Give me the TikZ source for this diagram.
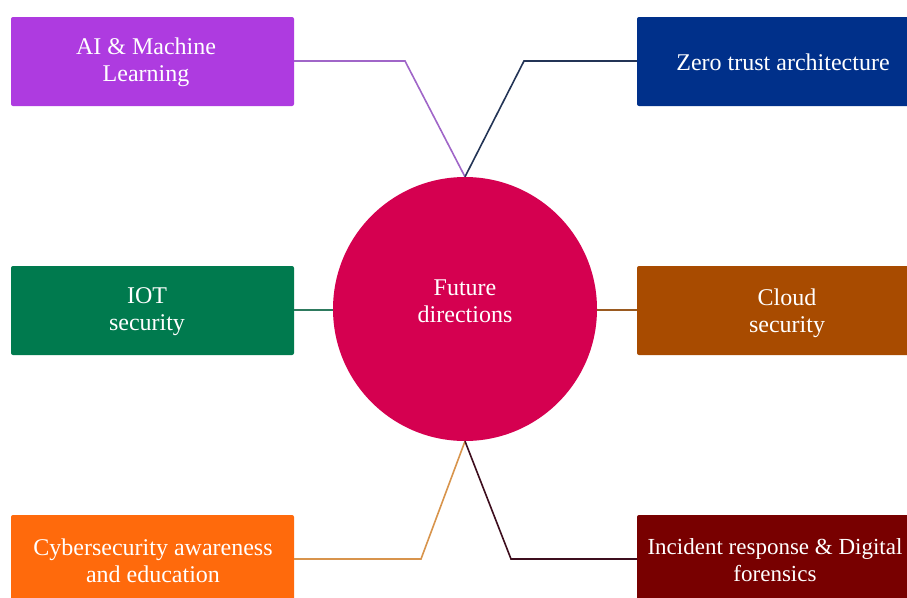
\documentclass[tikz,border=0pt]{standalone}
\usepackage{fontspec}
\setmainfont{Liberation Serif}
\definecolor{cAI}{HTML}{AE3BE0}
\definecolor{cZT}{HTML}{00308A}
\definecolor{cIOT}{HTML}{007A4E}
\definecolor{cCL}{HTML}{A84B00}
\definecolor{cCY}{HTML}{FF6A0C}
\definecolor{cIR}{HTML}{780000}
\definecolor{cFD}{HTML}{D50050}
\definecolor{lAI}{HTML}{A066C8}
\definecolor{lZT}{HTML}{233456}
\definecolor{lIOT}{HTML}{2E7A5E}
\definecolor{lCL}{HTML}{9A5A20}
\definecolor{lCY}{HTML}{D8944C}
\definecolor{lIR}{HTML}{3E0E1E}
\tikzset{
  topic/.style={draw=none, rounded corners=2pt, minimum width=283pt, minimum height=89pt,
    inner sep=0pt},
  label/.style={text=white, align=center, inner sep=0pt, font=\fontsize{24}{27}\selectfont},
  hub/.style={circle, fill=cFD, minimum size=264pt, inner sep=0pt},
  link/.style={line width=1.6pt}
}
\begin{document}
\begin{tikzpicture}[x=1pt,y=-1pt]
\clip (0,0) rectangle (907,597);
\fill[white] (0,0) rectangle (907,597);
% hub
\node[hub] (fd) at (465,309) {};
\node[label] (fdt) at (465,301) {Future\\directions};
% topic boxes
\node[topic, fill=cAI] (ai) at (152.5,61.5) {};
\node[label] (ait) at (146,62) {AI \& Machine\\Learning};
\node[topic, fill=cZT, minimum width=290pt] (zt) at (782,61.5) {};
\node[label] (ztt) at (783,62) {Zero trust architecture};
\node[topic, fill=cIOT] (iot) at (152.5,310.5) {};
\node[label] (iott) at (147,312) {IOT\\security};
\node[topic, fill=cCL, minimum width=290pt] (cl) at (782,310.5) {};
\node[label] (clt) at (787,313) {Cloud\\security};
\node[topic, fill=cCY] (cy) at (152.5,559.5) {};
\node[label] (cyt) at (153,561) {Cybersecurity awareness\\and education};
\node[topic, fill=cIR, minimum width=290pt] (ir) at (782,559.5) {};
\node[label, font=\fontsize{23}{27}\selectfont] (irt) at (775,560) {Incident response \& Digital\\forensics};
% connectors
\coordinate (top) at (fd.north);
\coordinate (bot) at (fd.south);
\draw[link, lAI] (ai.east |- 0,61) -- (405,61) -- (top);
\draw[link, lZT] (zt.west |- 0,61) -- (524,61) -- (top);
\draw[link, lIOT] (iot.east |- 0,310) -- (fd.west |- 0,310);
\draw[link, lCL] (fd.east |- 0,310) -- (cl.west |- 0,310);
\draw[link, lCY] (cy.east |- 0,559) -- (421,559) -- (bot);
\draw[link, lIR] (ir.west |- 0,559) -- (511,559) -- (bot);
\end{tikzpicture}
\end{document}
